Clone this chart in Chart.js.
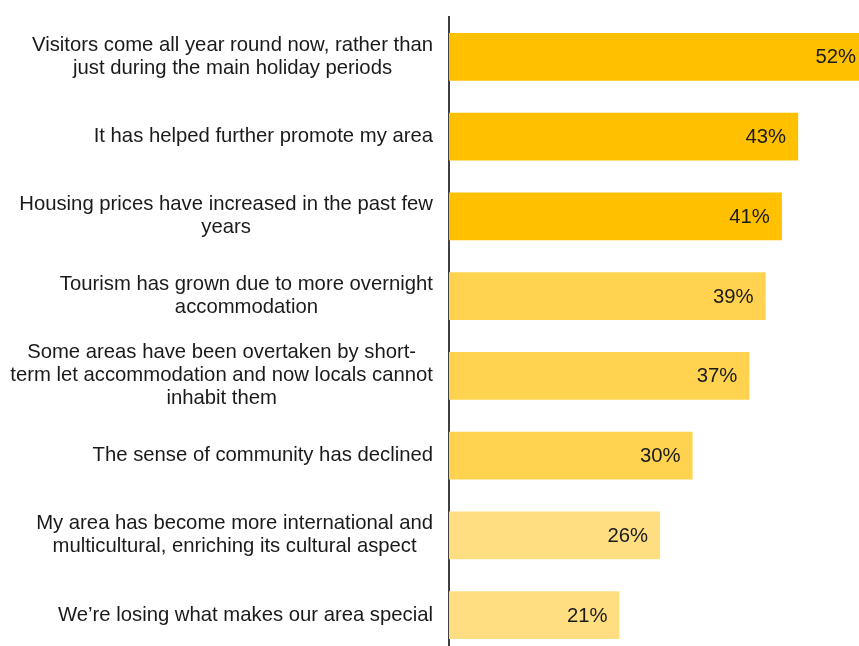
<!DOCTYPE html>
<html>
<head>
<meta charset="utf-8">
<script src="https://cdn.jsdelivr.net/npm/chart.js@4/dist/chart.umd.min.js"></script>
<style>
    html, body { margin: 0; padding: 0; background: #fff; overflow: hidden; }
    #wrap { position: relative; width: 859px; height: 655px; }
</style>
</head>
<body>
<div id="wrap"><canvas id="impactChart"></canvas></div>
<script>
// Statements (each entry is one label, split into its lines)
const statements = [
    ['Visitors come all year round now, rather than', 'just during the main holiday periods'],
    ['It has helped further promote my area'],
    ['Housing prices have increased in the past few', 'years'],
    ['Tourism has grown due to more overnight', 'accommodation'],
    ['Some areas have been overtaken by short-', 'term let accommodation and now locals cannot', 'inhabit them'],
    ['The sense of community has declined'],
    ['My area has become more international and', 'multicultural, enriching its cultural aspect'],
    ['We\u2019re losing what makes our area special']
];

// Share of respondents agreeing (%)
const agreePct = [52, 43, 41, 39, 37, 30, 26, 21];

// Shade per bar: top three, middle three, bottom two
const barColours = ['#FFC000', '#FFC000', '#FFC000', '#FFD34F', '#FFD34F', '#FFD34F', '#FFDE82', '#FFDE82'];

const labelFont = '20.3px "Liberation Sans", Arial, sans-serif';
const textColour = '#1a1a1a';

// Category labels: block right-aligned next to the axis, lines centred within the block
const statementLabels = {
    id: 'statementLabels',
    afterDraw(chart) {
        const ctx = chart.ctx;
        const yScale = chart.scales.y;
        const rightX = chart.chartArea.left - 16;
        const lineH = 23;
        ctx.save();
        ctx.font = labelFont;
        ctx.fillStyle = textColour;
        ctx.textAlign = 'center';
        ctx.textBaseline = 'middle';
        statements.forEach((lines, i) => {
            const cy = yScale.getPixelForValue(i);
            const maxW = Math.max(...lines.map(l => ctx.measureText(l).width));
            const cx = rightX - maxW / 2;
            const top = cy - (lines.length - 1) * lineH / 2;
            lines.forEach((line, j) => {
                ctx.fillText(line, cx, top + j * lineH);
            });
        });
        ctx.restore();
    }
};

// Percentage label inside the end of each bar
const valueLabels = {
    id: 'valueLabels',
    afterDatasetsDraw(chart) {
        const ctx = chart.ctx;
        const meta = chart.getDatasetMeta(0);
        const right = chart.chartArea.right;
        ctx.save();
        ctx.font = labelFont;
        ctx.fillStyle = textColour;
        ctx.textAlign = 'right';
        ctx.textBaseline = 'middle';
        meta.data.forEach((bar, i) => {
            const x = Math.min(bar.x - 12, right - 3);
            ctx.fillText(agreePct[i] + '%', x, bar.y + 1);
        });
        ctx.restore();
    }
};

const ctx = document.getElementById('impactChart').getContext('2d');
new Chart(ctx, {
    type: 'bar',
    data: {
        labels: statements,
        datasets: [{
            data: agreePct,
            backgroundColor: barColours,
            borderWidth: 0,
            barPercentage: 0.6,
            categoryPercentage: 1.0
        }]
    },
    options: {
        indexAxis: 'y',
        responsive: true,
        maintainAspectRatio: false,
        animation: false,
        layout: { padding: { left: 449, top: 17, right: 0, bottom: 0 } },
        plugins: {
            legend: { display: false },
            tooltip: { enabled: false }
        },
        scales: {
            x: {
                display: false,
                min: 0,
                max: 50.5
            },
            y: {
                display: true,
                ticks: { display: false },
                grid: { display: false, drawTicks: false },
                border: { display: true, color: '#404040', width: 2 }
            }
        }
    },
    plugins: [statementLabels, valueLabels]
});
</script>
</body>
</html>
